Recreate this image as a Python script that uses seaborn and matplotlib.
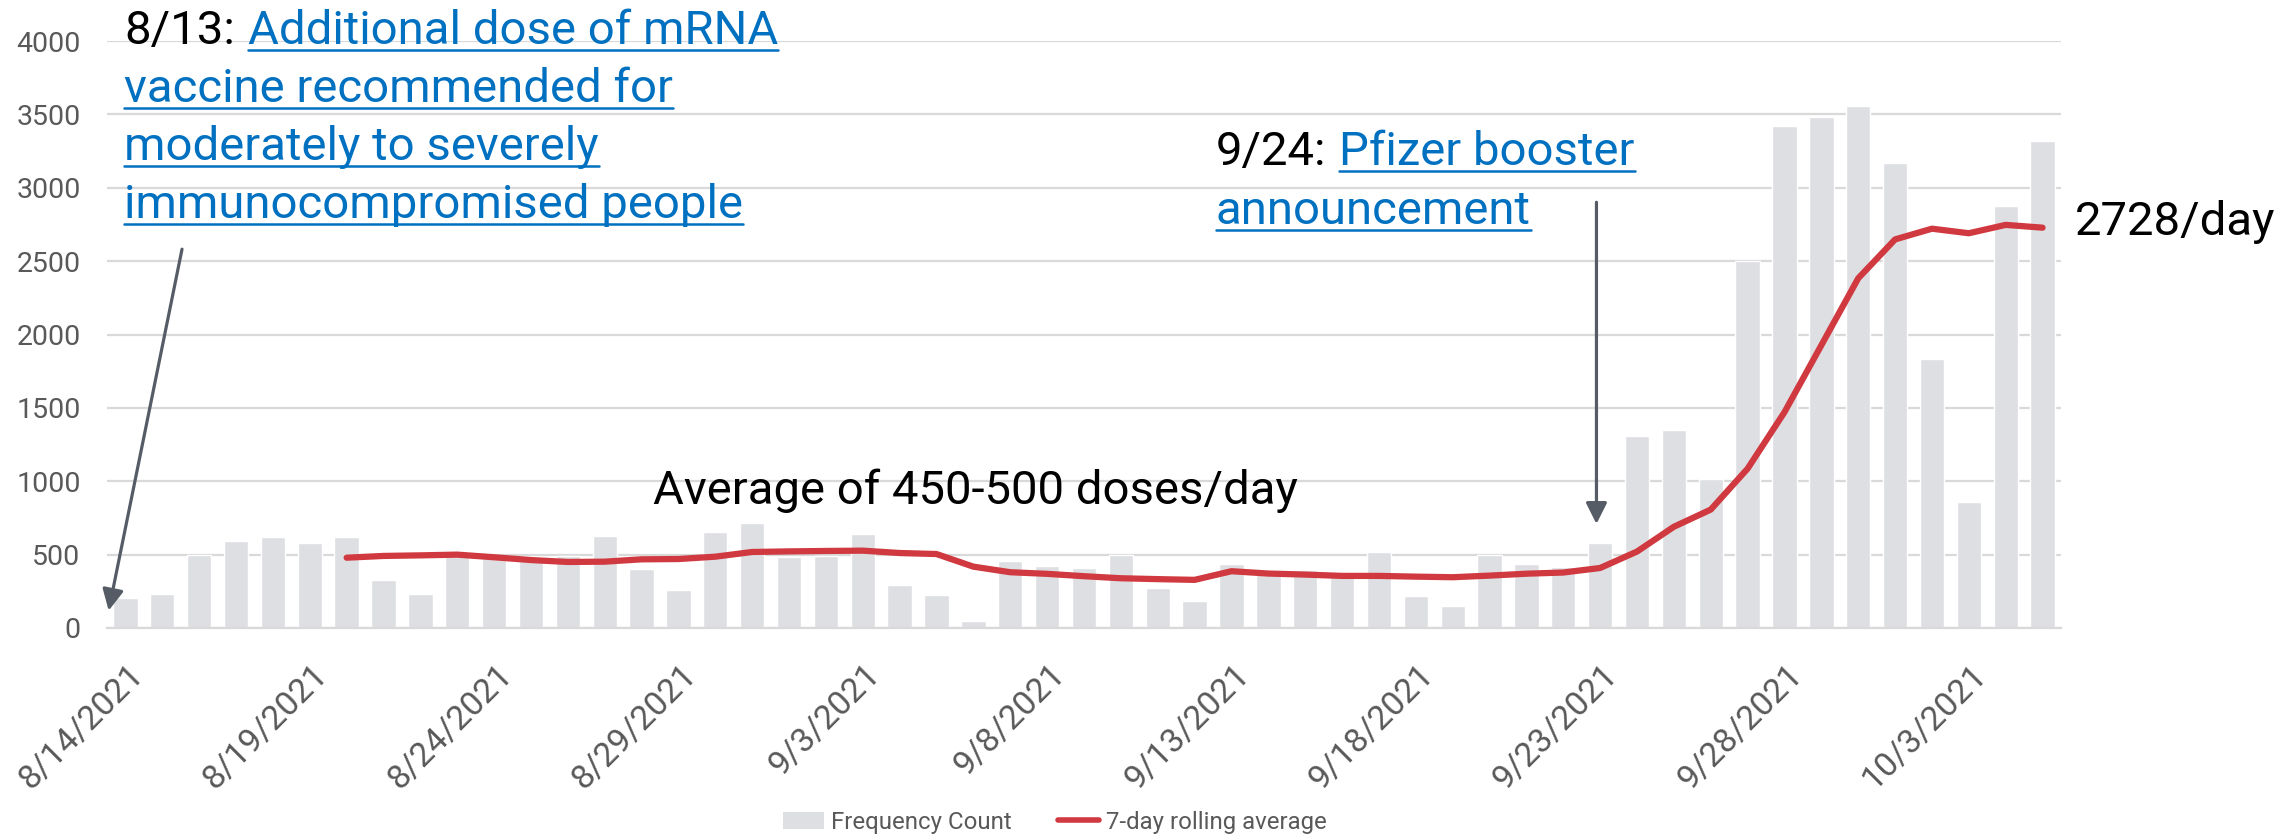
import numpy as np
import pandas as pd
import seaborn as sns
import matplotlib.pyplot as plt
import matplotlib.transforms as mtransforms
from matplotlib.lines import Line2D
from matplotlib.patches import Patch
from matplotlib import font_manager as fm

# daily doses, 8/14/2021 - 10/5/2021
dates = pd.date_range('2021-08-14', '2021-10-05', freq='D')
counts = [203, 231, 500, 594, 621, 582, 621, 326, 234, 516, 480, 459, 493, 630, 405, 261, 655, 717,
          482, 493, 643, 296, 222, 45, 455, 423, 412, 495, 271, 186, 434, 368, 393, 357, 518, 220,
          152, 498, 437, 419, 578, 1310, 1349, 1018, 2503, 3424, 3484, 3560, 3167, 1836, 862, 2878, 3318]
# 7-day rolling average (starts 8/20)
rolling = [479, 491, 495, 500, 482, 463, 450, 452, 468, 470, 486, 518,
           522, 525, 527, 511, 504, 418, 380, 369, 353, 339, 333, 328, 387, 371, 364, 355, 355,
           350, 346, 357, 370, 378, 409, 521, 690, 807, 1086, 1471, 1927, 2383, 2648, 2721,
           2690, 2747, 2728]

tick_labels = [f'{d.month}/{d.day}/{d.year}' for d in dates[::5]]

df = pd.DataFrame({'pos': np.arange(len(dates)), 'count': counts})
roll = pd.DataFrame({'pos': np.arange(len(dates) - len(rolling), len(dates)), 'avg': rolling})

sns.set_style('white')
names = {f.name for f in fm.fontManager.ttflist}
base_font = 'Roboto' if 'Roboto' in names else 'DejaVu Sans'
plt.rcParams['font.family'] = [base_font, 'DejaVu Sans']

W, H = 2292, 836
BAR = '#DEDFE3'
RED = '#D0393F'
BLUE = '#0070C0'
GRID = '#D9D9D9'
ARROW = '#565C66'
TXT = '#595959'

fig = plt.figure(figsize=(W / 100, H / 100), dpi=100)
ax = fig.add_axes([107 / W, 1 - 628 / H, (2061 - 107) / W, (628 - 41) / H])

sns.barplot(data=df, x='pos', y='count', color=BAR, saturation=1, width=0.66, ax=ax)
sns.lineplot(data=roll, x='pos', y='avg', color=RED, lw=4.5, ax=ax)

ax.set_xlim(-0.5, len(dates) - 0.5)
ax.set_ylim(0, 4000)
ax.set_yticks(np.arange(0, 4001, 500))
ax.set_xticks(np.arange(-0.5, len(dates), 5))
ax.set_xticklabels(tick_labels, rotation=45, ha='right', va='top', rotation_mode='anchor')
ax.set_xlabel('')
ax.set_ylabel('')
ax.yaxis.grid(True, color=GRID, lw=1.6)
ax.set_axisbelow(True)
for s in ['top', 'right', 'left']:
    ax.spines[s].set_visible(False)
ax.spines['bottom'].set_color(GRID)
ax.spines['bottom'].set_linewidth(1.6)
ax.tick_params(axis='x', length=8, width=1.6, color=GRID, labelsize=24.5, labelcolor=TXT, pad=4)
ax.tick_params(axis='y', length=0, labelsize=20.5, labelcolor=TXT, pad=19)
shift = mtransforms.ScaledTranslation(0.2, -0.14, fig.dpi_scale_trans)
for lab in ax.get_xticklabels():
    lab.set_transform(lab.get_transform() + shift)

# arrows
ax.annotate('', xy=(-0.47, 100), xytext=(1.55, 2600),
            arrowprops=dict(arrowstyle='-|>', color=ARROW, lw=2.3, mutation_scale=32))
ax.annotate('', xy=(39.9, 690), xytext=(39.9, 2920),
            arrowprops=dict(arrowstyle='-|>', color=ARROW, lw=2.3, mutation_scale=32))

fig.canvas.draw()
r = fig.canvas.get_renderer()


def put(x, y, s, color='black', size=34, under=False):
    # x, y: pixels from top-left, y at baseline
    t = fig.text(x / W, 1 - y / H, s, color=color, fontsize=size, ha='left', va='baseline')
    bb = t.get_window_extent(renderer=r)
    if under:
        yy = 1 - (y + 6) / H
        fig.add_artist(Line2D([bb.x0 / W, bb.x1 / W], [yy, yy], color=color, lw=1.8))
    return bb


bb = put(124, 44, '8/13:')
put(bb.x1 + 13, 44, 'Additional dose of mRNA', BLUE, under=True)
put(124, 102, 'vaccine recommended for', BLUE, under=True)
put(124, 160, 'moderately to severely', BLUE, under=True)
put(124, 218, 'immunocompromised people', BLUE, under=True)

bb = put(1216, 165, '9/24:')
put(bb.x1 + 13, 165, 'Pfizer booster', BLUE, under=True)
put(1216, 224, 'announcement', BLUE, under=True)

put(653, 504, 'Average of 450-500 doses/day')
put(2075, 235, '2728/day')

handles = [Patch(facecolor=BAR, edgecolor='none'), Line2D([], [], color=RED, lw=4)]
fig.legend(handles, ['Frequency Count', '7-day rolling average'], loc='center',
           bbox_to_anchor=(1055 / W, 1 - 822 / H), ncol=2, frameon=False, fontsize=17.3,
           labelcolor=TXT, columnspacing=1.9, handlelength=1.7, handletextpad=0.3)

fig.savefig('out.png', dpi=100)
